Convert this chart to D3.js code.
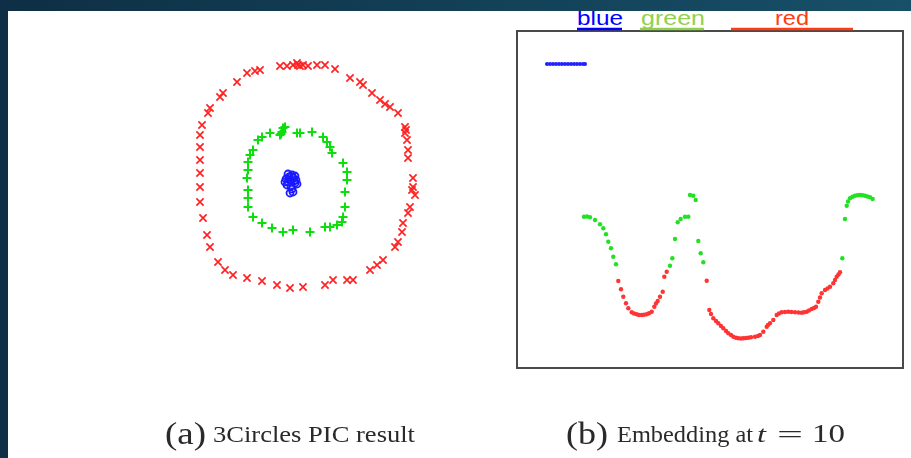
<!DOCTYPE html>
<html><head><meta charset="utf-8">
<script src="https://cdn.jsdelivr.net/npm/d3@7"></script>
<style>html,body{margin:0;padding:0;overflow:hidden;background:#fff}</style>
</head><body>
<svg id="c" width="911" height="458"></svg>
<script>
// ---- Panel (a): 3Circles PIC result (data units) ----
const redRing = [[-0.10,1.14],[-0.03,1.14],[0.03,1.15],[0.07,1.17],[0.10,1.14],[0.18,1.14],[0.27,1.15],[0.35,1.15],[0.45,1.11],[0.60,1.02],[0.70,0.98],[0.73,0.95],[0.82,0.87],[0.90,0.80],[0.95,0.76],[1.00,0.73],[1.08,0.67],[1.15,0.53],[1.15,0.47],[1.17,0.40],[1.18,0.30],[1.18,0.22],[1.23,0.02],[1.23,-0.07],[1.25,-0.15],[1.20,-0.27],[1.18,-0.33],[1.13,-0.43],[1.12,-0.52],[1.08,-0.62],[1.05,-0.67],[0.93,-0.80],[0.87,-0.85],[0.80,-0.90],[0.63,-1.00],[0.57,-1.00],[0.43,-1.00],[0.35,-1.05],[0.13,-1.07],[0.00,-1.08],[-0.13,-1.05],[-0.28,-1.01],[-0.43,-0.98],[-0.57,-0.95],[-0.65,-0.90],[-0.72,-0.82],[-0.80,-0.67],[-0.83,-0.55],[-0.87,-0.38],[-0.90,-0.22],[-0.90,-0.07],[-0.90,0.07],[-0.90,0.20],[-0.90,0.33],[-0.90,0.45],[-0.88,0.55],[-0.82,0.67],[-0.80,0.72],[-0.70,0.83],[-0.67,0.87],[-0.53,0.98],[-0.43,1.07],[-0.35,1.09],[-0.30,1.10],[0.08,1.15],[0.13,1.15],[1.16,0.50],[1.22,-0.10]];
const greenRing = [[-0.32,0.40],[-0.28,0.43],[-0.20,0.47],[-0.10,0.45],[-0.08,0.48],[-0.07,0.52],[-0.05,0.53],[-0.09,0.46],[0.07,0.47],[0.10,0.47],[0.22,0.48],[0.33,0.43],[0.37,0.38],[0.40,0.33],[0.42,0.27],[0.53,0.17],[0.57,0.08],[0.57,0.00],[0.55,-0.12],[0.55,-0.27],[0.53,-0.37],[0.52,-0.42],[0.47,-0.45],[0.40,-0.47],[0.35,-0.47],[0.20,-0.52],[0.03,-0.50],[-0.07,-0.52],[-0.18,-0.48],[-0.28,-0.43],[-0.37,-0.37],[-0.42,-0.27],[-0.42,-0.18],[-0.42,-0.10],[-0.43,0.02],[-0.42,0.10],[-0.42,0.18],[-0.40,0.25],[-0.37,0.30]];
const blueCore = [[0,0],[0.03,0.02],[-0.02,-0.02],[0.05,-0.03],[0.01,-0.06],[-0.03,-0.05],[0.02,-0.09],[0,-0.13],[0.04,-0.01],[-0.04,0.01],[-0.01,0.03],[0.06,0],[0.02,0.05],[-0.05,-0.02],[0.07,-0.04],[0.03,-0.12],[-0.02,0.06],[0.05,0.04]];

// ---- Panel (b): Embedding at t = 10 (index, value) ----
const blueEmb = [[31,304],[34,304],[37,304],[40,304],[43,304],[46,304],[49,304],[52,304],[55,304],[58,304],[61,304],[64,304],[67,304],[69,304]];
const greenEmb = [[68,151.3],[71,151.5],[74,150.7],[79,148],[84,143.7],[87.3,139.7],[90,133.7],[92.3,126.3],[95,119.7],[97.3,111.3],[100,103.7],
 [154,102.3],[156.3,109.7],[159,129],[161.7,145.7],[164.7,149],[169,151.3],[172.3,151.3],
 [174,173],[177.3,172.3],[179.7,168],
 [182.3,127],[184.7,114.7],[187.3,105.7],
 [326.3,109.7],[329,149],[330.7,162.3],[332,166.5],[334,169.7],[336.5,171.3],[339,172.3],[341.5,172.8],[344,173],[346.5,172.8],[349,172.3],[351.5,171.5],[354,170.7],[356.7,169]];
const redEmb = [[102.3,87],[105,78.7],[107.3,71.3],[110,64.7],[112.3,59.7],[115.7,55.7],[118,54.5],[120.7,53.7],[123,53],[125.7,53],[128,53.2],[130.7,53.7],[133,54.7],[135.7,56.3],[138.3,61.3],[140,64.5],[141.7,67],[144,71.3],[146.7,76.3],[148.3,91.3],[150.7,96.3],
 [190.7,87.3],
 [193.3,58],[195,54],[197.3,49.7],[200,47],[202.3,44.7],[205,42],[207.3,39.7],[210,37],[212.3,34.7],[215,33],[217.3,31.3],[220,30.2],[222.3,29.7],[225,29.5],[227.3,29.7],[230,30],[232.3,30.3],[235,30.7],[239,31.3],[242,32],[244,33],[247.3,36.3],[250.7,41.3],[252,43],[254,44.7],[257.3,48],[260.7,53],[263,54.5],[265.7,55.7],[269,56],[272.3,56.3],[275.5,56],[279,55.7],[282.5,55.5],[285.7,55.3],[288,55.7],[290.7,56.3],[293,57.5],[295.7,59],[298,60],[300,61.3],[302.3,66.3],[304,70.5],[305.7,74.7],[309,78],[311.5,79.5],[314,81.3],[317.3,84.7],[319,88],[320.7,91.3],[322.5,93.5],[324,95.7]];

const legendLabels = ["blue","green","red"];
const captionA = ["(a)","3Circles PIC result"];
const captionB = ["(b)","Embedding at","t","=","10"];

const svg = d3.select("#c");
const defs = svg.append("defs");
const grad = defs.append("linearGradient").attr("id","bg").attr("x1","0").attr("x2","1").attr("y1","0").attr("y2","0");
grad.append("stop").attr("offset","0").attr("stop-color","#0e2f45");
grad.append("stop").attr("offset","1").attr("stop-color","#175068");
defs.append("filter").attr("id","soft").append("feGaussianBlur").attr("stdDeviation",0.5);
defs.append("filter").attr("id","softT").append("feGaussianBlur").attr("stdDeviation",0.35);

svg.append("rect").attr("width",911).attr("height",458).attr("fill","url(#bg)");
svg.append("rect").attr("x",8).attr("y",11).attr("width",903).attr("height",447).attr("fill","#fff");

// Panel (a)
const xa = d3.scaleLinear().domain([-1,1]).range([190,390]);
const ya = d3.scaleLinear().domain([-1,1]).range([280,80]);
const ga = svg.append("g").attr("filter","url(#soft)");
const s = 3.6;
ga.selectAll("path.r").data(redRing).join("path").attr("class","r")
  .attr("d",d=>{const x=xa(d[0]),y=ya(d[1]);return `M${x-s},${y-s}L${x+s},${y+s}M${x-s},${y+s}L${x+s},${y-s}`;})
  .attr("stroke","#ff2424").attr("stroke-width",1.7).attr("fill","none");
const p = 4.5;
ga.selectAll("path.g").data(greenRing).join("path").attr("class","g")
  .attr("d",d=>{const x=xa(d[0]),y=ya(d[1]);return `M${x-p},${y}L${x+p},${y}M${x},${y-p}L${x},${y+p}`;})
  .attr("stroke","#0fdf0f").attr("stroke-width",2).attr("fill","none");
ga.selectAll("circle.b").data(blueCore).join("circle").attr("class","b")
  .attr("cx",d=>xa(d[0])).attr("cy",d=>ya(d[1])).attr("r",3.5)
  .attr("stroke","#1a1aff").attr("stroke-width",1.8).attr("fill","none");

// Panel (b)
const xb = d3.scaleLinear().domain([0,387]).range([516,903]);
const yb = d3.scaleLinear().domain([0,337]).range([368,31]);
svg.append("rect").attr("x",517).attr("y",31).attr("width",386).attr("height",337)
  .attr("fill","#fff").attr("stroke","#4a4a4a").attr("stroke-width",2);
const gb = svg.append("g").attr("filter","url(#soft)");
gb.selectAll("circle.be").data(blueEmb).join("circle").attr("class","be")
  .attr("cx",d=>xb(d[0])).attr("cy",d=>yb(d[1])).attr("r",2.1).attr("fill","#2323ff");
gb.selectAll("circle.ge").data(greenEmb).join("circle").attr("class","ge")
  .attr("cx",d=>xb(d[0])).attr("cy",d=>yb(d[1])).attr("r",2.2).attr("fill","#22e022");
gb.selectAll("circle.re").data(redEmb).join("circle").attr("class","re")
  .attr("cx",d=>xb(d[0])).attr("cy",d=>yb(d[1])).attr("r",2.2).attr("fill","#ff3434");

// Legend labels with underlines
const legendStyle = [
  {c:"#0000ff", tx:577, tw:46, ux1:577, ux2:622},
  {c:"#8fd14f", tx:641, tw:64, ux1:640, ux2:704},
  {c:"#ff3c14", tx:775, tw:34, ux1:731, ux2:853}
];
legendLabels.forEach((t,i)=>{
  const st = legendStyle[i];
  svg.append("text").attr("x",st.tx).attr("y",25).attr("fill",st.c)
    .attr("font-family","Liberation Sans, Arial, sans-serif").attr("font-size",21)
    .attr("textLength",st.tw).attr("lengthAdjust","spacingAndGlyphs").text(t);
  svg.append("line").attr("x1",st.ux1).attr("x2",st.ux2).attr("y1",29).attr("y2",29)
    .attr("stroke",st.c).attr("stroke-width",2.4);
});
// dark top band (clips legend ascenders as in reference)
svg.append("rect").attr("x",0).attr("y",0).attr("width",911).attr("height",11).attr("fill","url(#bg)");

// Captions
const serif = "Liberation Serif, Times New Roman, serif";
const cap = svg.append("g").attr("fill","#2a2a2a").attr("font-family",serif).attr("filter","url(#softT)");
function txt(x,y,size,w,t,italic){
  const e = cap.append("text").attr("x",x).attr("y",y).attr("font-size",size).text(t);
  if(w) e.attr("textLength",w).attr("lengthAdjust","spacingAndGlyphs");
  if(italic) e.attr("font-style","italic");
  return e;
}
txt(165,444,31,41,captionA[0]);
txt(213,442,23,202,captionA[1]);
txt(566,444,31,42,captionB[0]);
txt(617,442,23,136,captionB[1]);
txt(757,442,24,9,captionB[2],true);
txt(777,442,24,26,captionB[3]);
txt(812,442,25,33,captionB[4]);
</script>
</body></html>
